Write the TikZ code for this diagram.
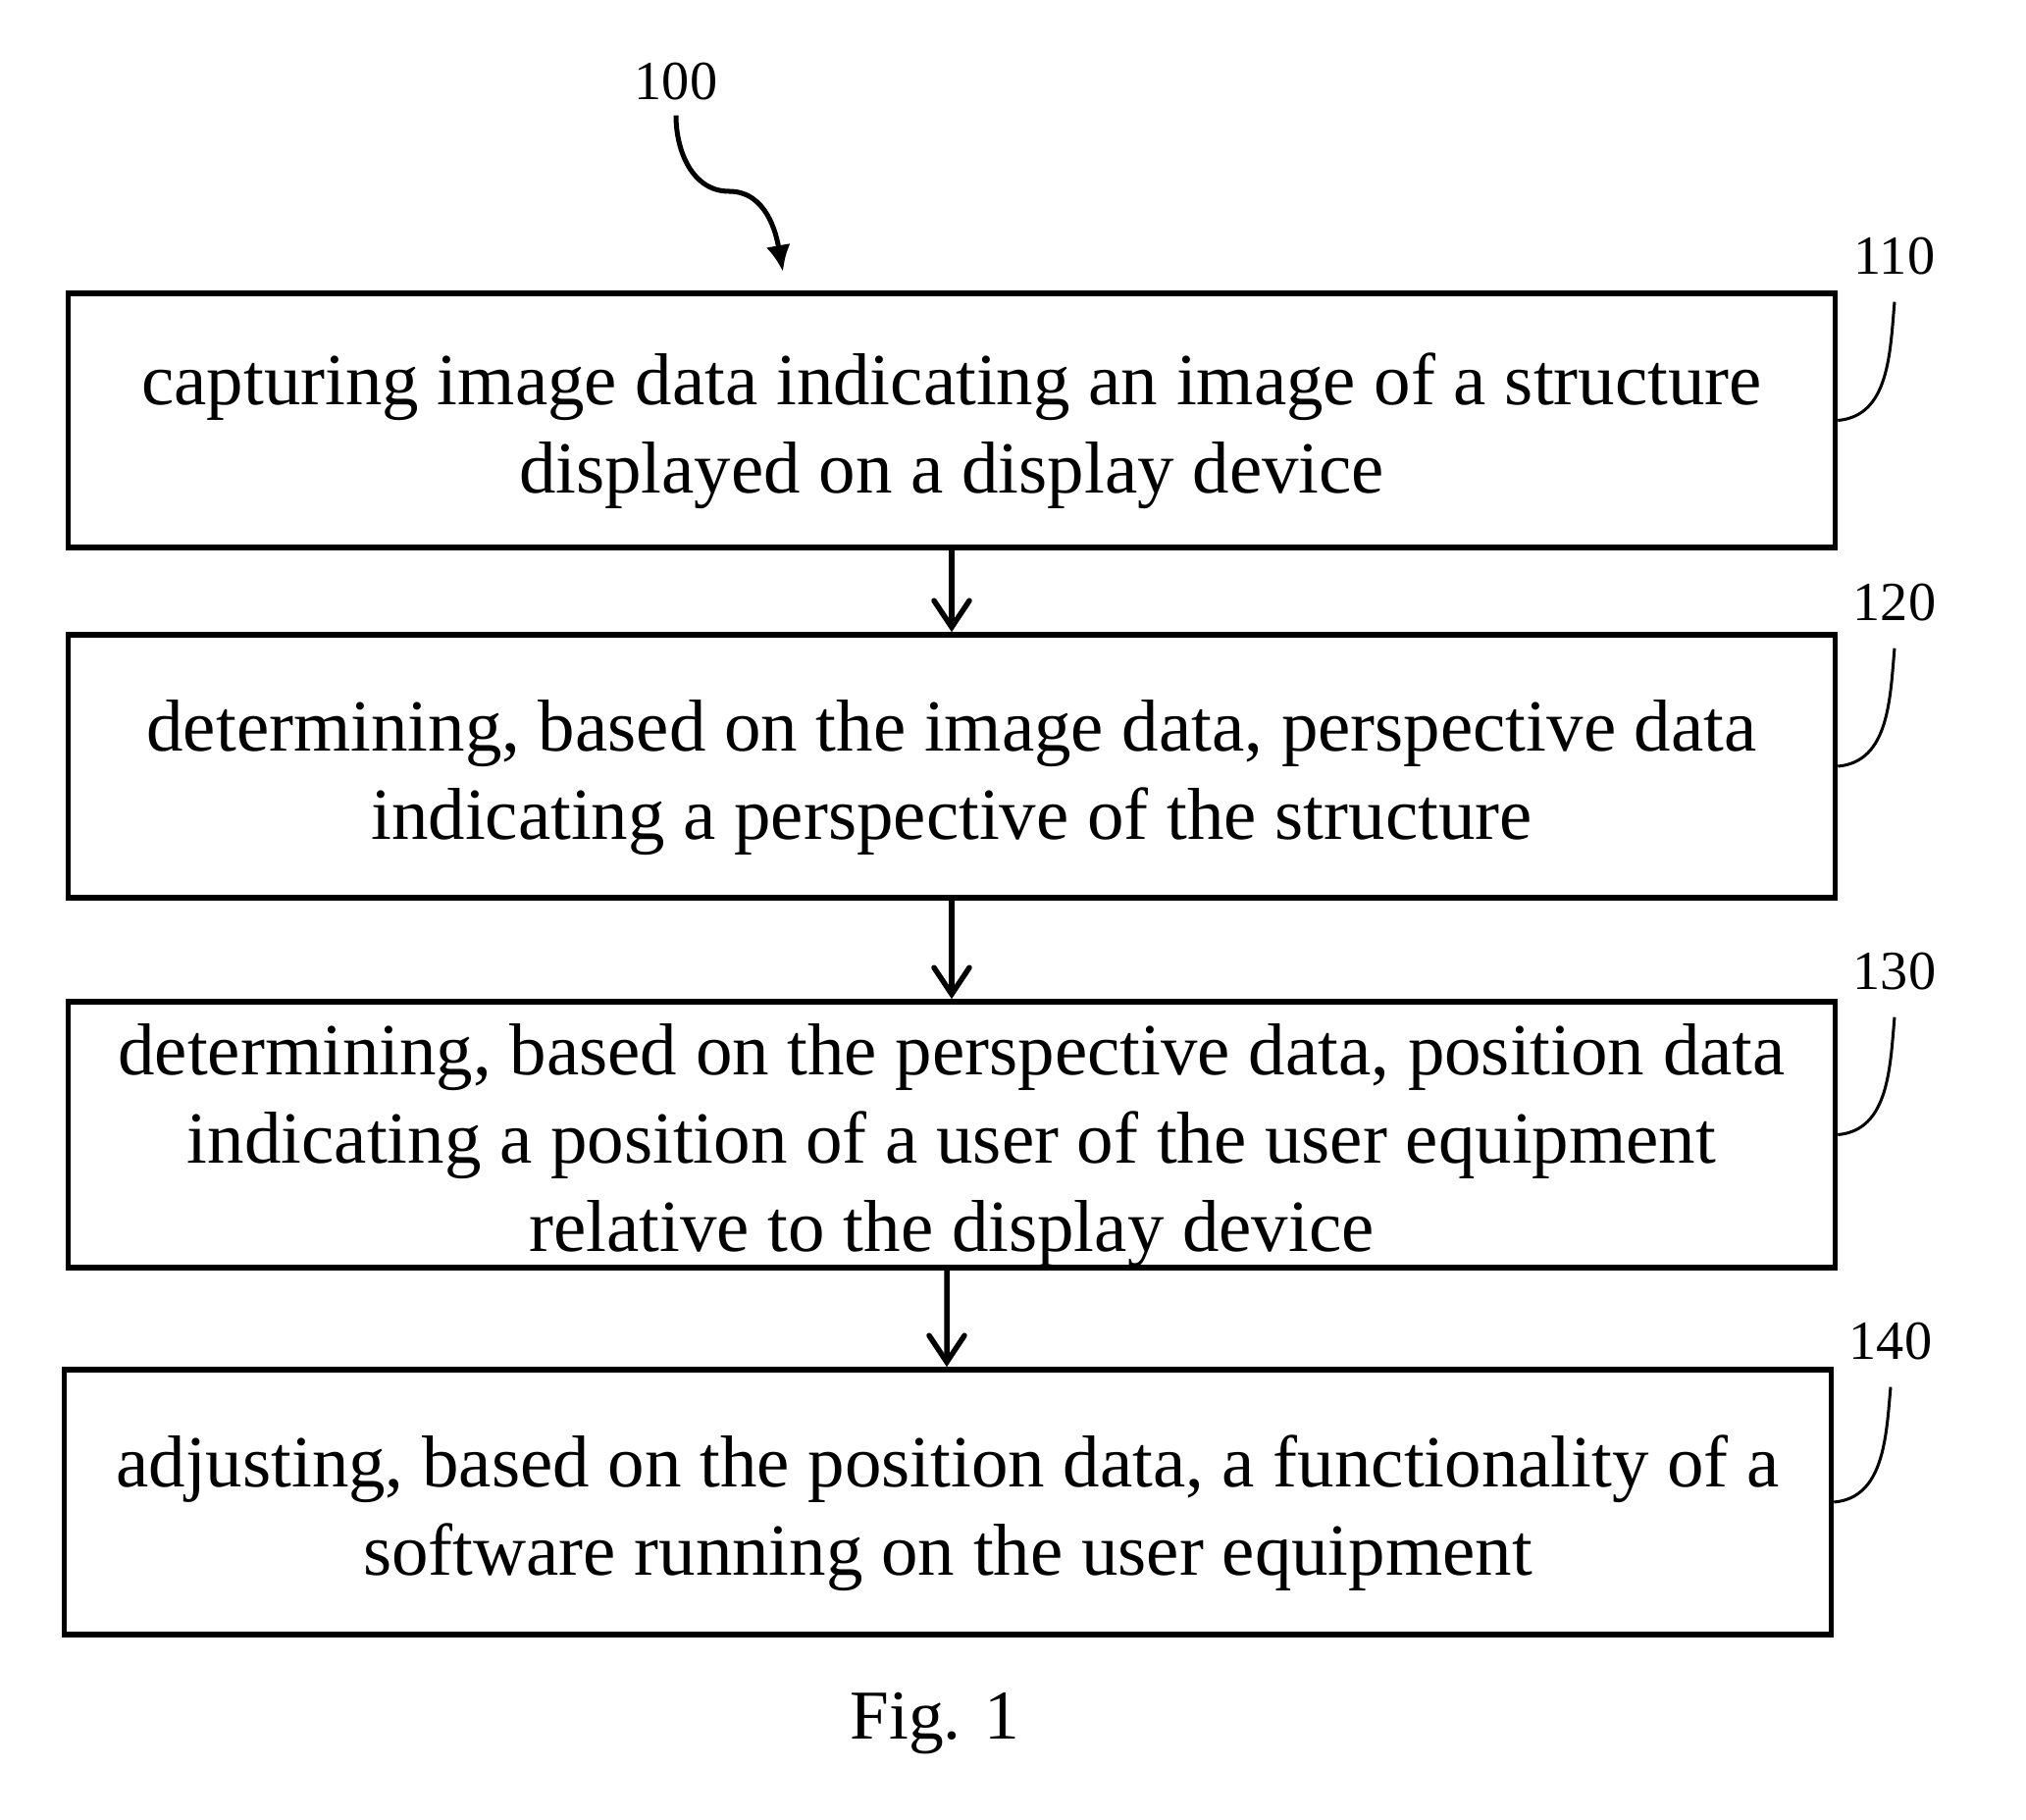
\documentclass[tikz,border=0pt]{standalone}
\usepackage{fontspec}
\setmainfont{Liberation Serif}
\usetikzlibrary{arrows.meta}
\newcommand{\toprule}{\rule{0pt}{1em}}

\begin{document}
\begin{tikzpicture}[x=0.01cm,y=-0.01cm,
  box/.style={draw,line width=0.055cm,minimum width=18cm,inner sep=0pt,align=center,
    font=\fontsize{21.3}{25.6}\selectfont},
  num/.style={inner sep=0pt,font=\fontsize{16}{19}\selectfont},
  flow/.style={line width=0.055cm,-{Straight Barb[length=0.27cm,width=0.36cm,line cap=round]}},
  lead/.style={line width=0.03cm}]
  \useasboundingbox (0,0) rectangle (2065,1855);

  \node[box,minimum height=2.59cm] (b110) at (970,428.5) {\toprule capturing image data indicating an image of a structure\\displayed on a display device};
  \node[box,minimum height=2.68cm] (b120) at (970,781) {\toprule determining, based on the image data, perspective data\\indicating a perspective of the structure};
  \node[box,minimum height=2.69cm] (b130) at (970,1156.5) {\toprule determining, based on the perspective data, position data\\indicating a position of a user of the user equipment\\relative to the display device};
  \node[box,minimum height=2.70cm] (b140) at (966,1531) {\toprule adjusting, based on the position data, a functionality of a\\software running on the user equipment};

  \draw[flow] (b110) -- (b120);
  \draw[flow] (b120) -- (b130);
  \draw[flow] ([xshift=-0.05cm]b130.south) -- ([xshift=-0.01cm]b140.north);

  \node[num] (l100) at (689,83) {100};
  \node[num] (l110) at (1931,261) {110};
  \node[num] (l120) at (1931,614) {120};
  \node[num] (l130) at (1931,990) {130};
  \node[num] (l140) at (1927,1367) {140};
  \coordinate (tip100) at (798,277);
  \coordinate (mid100) at (743,195);

  \draw[line width=0.05cm,-{Latex[length=0.27cm,width=0.25cm]}] ([yshift=-0.15cm]l100.south) to[out=-90,in=180] (mid100) to[out=0,in=100] (tip100);
  \foreach \n in {110,120,130,140}
    \draw[lead] (b\n.east) to[out=5,in=-95] ([yshift=-0.27cm]l\n.south);

  \node[inner sep=0pt,font=\fontsize{20.3}{24}\selectfont] (fig) at (953,1757) {Fig. 1};
\end{tikzpicture}
\end{document}
